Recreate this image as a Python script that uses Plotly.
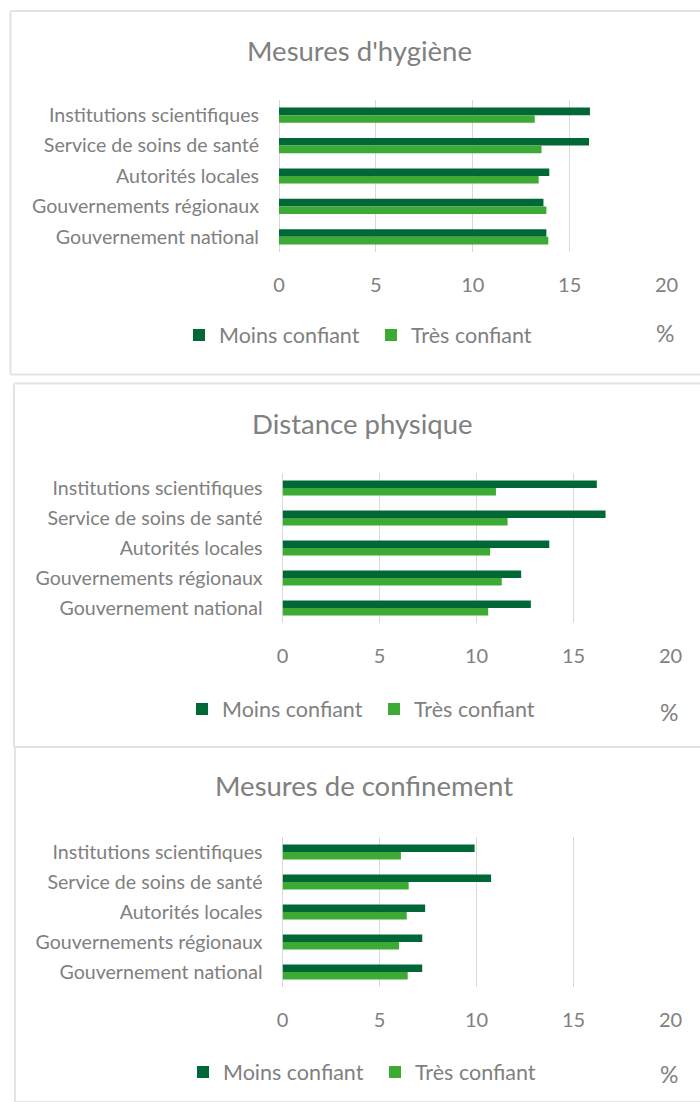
import plotly.graph_objects as go

W, H = 700, 1102

categories = ["Institutions scientifiques", "Service de soins de santé", "Autorités locales",
              "Gouvernements régionaux", "Gouvernement national"]
series_names = ["Moins confiant", "Très confiant"]
titles = ["Mesures d'hygiène", "Distance physique", "Mesures de confinement"]
x_ticks = [0, 5, 10, 15, 20]

hygiene_moins = [16.05, 16.0, 13.95, 13.65, 13.8]
hygiene_tres = [13.2, 13.55, 13.4, 13.8, 13.9]
distance_moins = [16.2, 16.65, 13.75, 12.3, 12.8]
distance_tres = [11.0, 11.6, 10.7, 11.3, 10.6]
confinement_moins = [9.9, 10.75, 7.35, 7.2, 7.2]
confinement_tres = [6.1, 6.5, 6.4, 6.0, 6.45]

panel_values = [(hygiene_moins, hygiene_tres), (distance_moins, distance_tres),
                (confinement_moins, confinement_tres)]

DARK = "#006837"
LIGHT = "#3DAA35"
TEXT = "#808080"
GRID = "#D9D9D9"
BORDER = "#E3E3E3"
FONT = "Lato"

# pixel layout per panel
panels = [
    dict(x0=279, x1=666.5, y0=100, y1=252, title_y=50, title_x=359, leg_x=179, leg_y=335, pct_y=333,
         box=(10.5, 11, 374.5)),
    dict(x0=282.6, x1=670.5, y0=473, y1=623, title_y=423, title_x=362, leg_x=182, leg_y=709, pct_y=712,
         box=(14, 383.5, 747)),
    dict(x0=282.6, x1=670.5, y0=837, y1=987, title_y=786, title_x=364, leg_x=183, leg_y=1072, pct_y=1074,
         box=(15, 747, 1102)),
]

def px_x(v):
    return v / W

def px_y(v):
    return 1 - v / H

fig = go.Figure()
shapes = []
annotations = []
layout_extra = {}

for i, (p, (moins, tres), title) in enumerate(zip(panels, panel_values, titles)):
    n = "" if i == 0 else str(i + 1)
    legname = "legend" if i == 0 else f"legend{i + 1}"
    for name, vals, color in zip(series_names, (moins, tres), (DARK, LIGHT)):
        fig.add_trace(go.Bar(
            y=categories, x=vals, orientation="h", name=name,
            marker=dict(color=color, line=dict(width=0)),
            xaxis=f"x{n}", yaxis=f"y{n}", legend=legname,
            hovertemplate="%{y}: %{x}<extra>" + name + "</extra>",
        ))
    layout_extra[f"xaxis{n}"] = dict(
        domain=[px_x(p["x0"]), px_x(p["x1"])], range=[0, 20], anchor=f"y{n}",
        tickvals=x_ticks, ticktext=[str(t) for t in x_ticks],
        showgrid=True, gridcolor=GRID, gridwidth=1, zeroline=True, zerolinecolor=GRID,
        zerolinewidth=1, showline=False, ticks="", ticklabelstandoff=19, automargin=False,
        tickfont=dict(family=FONT, size=20, color=TEXT), fixedrange=True,
    )
    layout_extra[f"yaxis{n}"] = dict(
        domain=[px_y(p["y1"]), px_y(p["y0"])], anchor=f"x{n}",
        categoryorder="array", categoryarray=categories, autorange="reversed",
        showgrid=False, zeroline=False, showline=False, ticks="", ticklabelstandoff=19,
        automargin=False,
        tickfont=dict(family=FONT, size=19.6, color=TEXT), fixedrange=True,
    )
    layout_extra[legname] = dict(
        orientation="h", x=px_x(p["leg_x"]), y=px_y(p["leg_y"]),
        xanchor="left", yanchor="middle", bgcolor="rgba(0,0,0,0)",
        entrywidth=147, entrywidthmode="pixels",
        font=dict(family=FONT, size=21.5, color=TEXT), traceorder="normal",
    )
    bx0, by0, by1 = p["box"]
    # panel frame: left, top and bottom edges (the right edge lies outside the picture)
    for (xa, ya, xb, yb) in [(bx0, by0, bx0, by1), (bx0, by0, W, by0), (bx0, by1, W, by1)]:
        shapes.append(dict(type="line", xref="paper", yref="paper",
                           x0=px_x(xa), x1=px_x(xb), y0=px_y(ya), y1=px_y(yb),
                           line=dict(color=BORDER, width=2), layer="below"))
    annotations.append(dict(text=title, xref="paper", yref="paper", x=px_x(p["title_x"]),
                            y=px_y(p["title_y"]), xanchor="center", yanchor="middle",
                            showarrow=False, font=dict(family=FONT, size=27.5, color=TEXT)))
    annotations.append(dict(text="%", xref="paper", yref="paper", x=px_x(p["x1"] - 2),
                            y=px_y(p["pct_y"]), xanchor="center", yanchor="middle",
                            showarrow=False, font=dict(family=FONT, size=23, color=TEXT)))

fig.update_layout(
    width=W, height=H, margin=dict(l=0, r=0, t=0, b=0, pad=0, autoexpand=False),
    paper_bgcolor="white", plot_bgcolor="white",
    barmode="group", bargap=0.5, bargroupgap=0,
    showlegend=True, shapes=shapes, annotations=annotations,
    font=dict(family=FONT, color=TEXT),
    **layout_extra,
)

fig.write_html(
    "out.html",
    config=dict(displayModeBar=False),
    post_script=("document.documentElement.style.margin='0';"
                 "document.documentElement.style.overflow='hidden';"
                 "document.body.style.margin='0';document.body.style.overflow='hidden';"),
)
